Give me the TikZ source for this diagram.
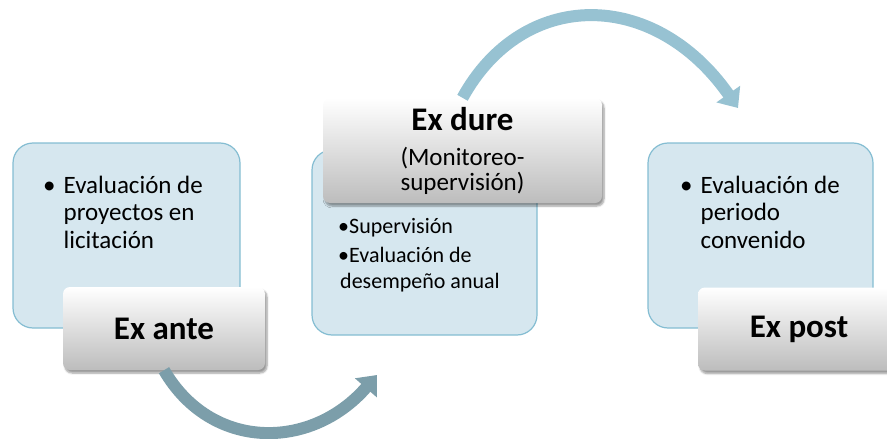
\documentclass[tikz,border=0pt]{standalone}
\usepackage{fontspec}
\setmainfont{Carlito}
\usetikzlibrary{arrows.meta,shadows.blur}
\definecolor{boxblue}{HTML}{D6E7EF}
\definecolor{edgeblue}{HTML}{84BDD2}
\definecolor{arcblue}{HTML}{97C2D2}
\definecolor{arcgray}{HTML}{7C9EAA}
\begin{document}
\begin{tikzpicture}[x=1pt, y=-1pt,
    stage/.style={rectangle, rounded corners=20pt, draw=edgeblue, line width=1.2pt, fill=boxblue},
    phase/.style={rectangle, rounded corners=7pt, top color=white, bottom color=black!26,
        blur shadow={shadow xshift=2pt, shadow yshift=-3pt, shadow blur steps=6, shadow opacity=40},
        font=\fontsize{33}{36}\selectfont\bfseries},
    bullets/.style={anchor=base west, align=left, inner sep=0pt, font=\fontsize{25}{27.5}\selectfont},
    loop/.style={line width=12pt, -{Triangle[width=28pt,length=17pt]}}]
\useasboundingbox (0,0) rectangle (887,439);
\clip (0,0) rectangle (887,439);

% the three blue boxes
\node[stage, minimum width=227pt, minimum height=185pt] (A) at (126.5,235.5) {};
\node[stage, minimum width=225pt, minimum height=185pt] (D) at (424.5,242.5) {};
\node[stage, minimum width=225pt, minimum height=185pt] (P) at (760.5,235.5) {};

\node[bullets] (Atxt) at (43,193) {\begin{tabular}[t]{@{}l@{\hspace{8pt}}l@{}}\textbullet & Evaluación de\\ & proyectos en\\ & licitación\end{tabular}};
\node[bullets, font=\fontsize{22}{26}\selectfont] (Dtxt) at (338,233) {\begin{tabular}[t]{@{}l@{}}\textbullet Supervisión\\[3pt] \textbullet Evaluación de\\ \hspace{2pt}desempeño anual\end{tabular}};
\node[bullets] (Ptxt) at (680,193) {\begin{tabular}[t]{@{}l@{\hspace{8pt}}l@{}}\textbullet & Evaluación de\\ & periodo\\ & convenido\end{tabular}};

% the gray labels
\node[phase, minimum width=202pt, minimum height=83pt] (ante) at (164,328.5) {Ex ante};
\node[phase, minimum width=279pt, minimum height=105pt, align=center, font=\fontsize{25}{26}\selectfont] (dure) at (462.5,150.5)
    {{\fontsize{33}{36}\selectfont\bfseries Ex dure}\\[9pt] (Monitoreo-\\[-1pt]supervisión)};
\node[phase, minimum width=202pt, minimum height=83pt] (post) at (799,329) {Ex post};

% arrows
\coordinate (anteend) at (377,375);
\coordinate (dureend) at (738,108);
\draw[loop, arcgray] (ante.south) .. controls (211,451) and (311,451) .. (anteend);
\draw[loop, arcblue] (dure.north) .. controls (523,-12) and (654,-12) .. (dureend);
\end{tikzpicture}
\end{document}
